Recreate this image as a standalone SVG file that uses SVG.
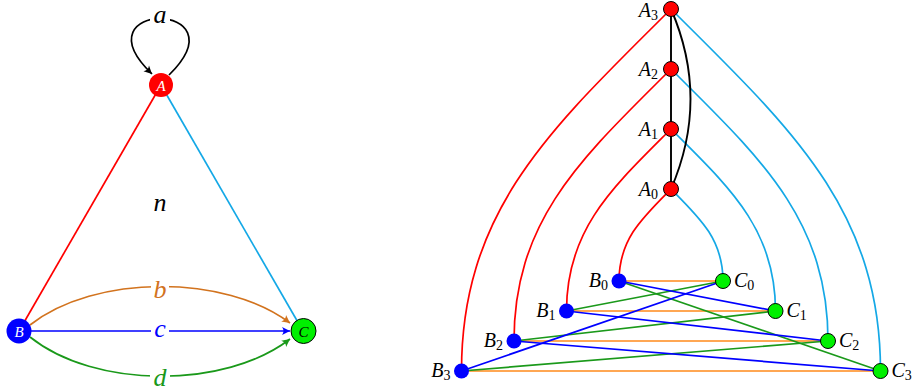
<svg xmlns="http://www.w3.org/2000/svg" width="915" height="392" viewBox="0 0 915 392">
<style>
.m{font-family:"Liberation Serif","DejaVu Serif",serif;font-style:italic}
.big{font-size:26px}
.nl{font-size:15px;text-anchor:middle}
.lab{font-size:20px}
.sub{font-size:14px;font-style:normal}
.e{fill:none;stroke-width:1.7}
.k{fill:none;stroke:#000;stroke-width:1.9}
.red{stroke:#ff0000}
.cy{stroke:#14a8e6}
.or{stroke:#ff8a1a}
.bl{stroke:#0000ff}
.gr{stroke:#1a991a}
.ob{stroke:#d2731e}
.bg{fill:#fff}
</style>
<defs>
<marker id="ak" viewBox="-9 -5 10 10" refX="0" refY="0" markerWidth="10" markerHeight="10" markerUnits="userSpaceOnUse" orient="auto"><path d="M0,0 L-8,-4 Q-5,0 -8,4 Z" fill="#000"/></marker>
<marker id="ao" viewBox="-9 -5 10 10" refX="0" refY="0" markerWidth="10" markerHeight="10" markerUnits="userSpaceOnUse" orient="auto"><path d="M0,0 L-8,-4 Q-5,0 -8,4 Z" fill="#d2731e"/></marker>
<marker id="ab" viewBox="-9 -5 10 10" refX="0" refY="0" markerWidth="10" markerHeight="10" markerUnits="userSpaceOnUse" orient="auto"><path d="M0,0 L-8,-4 Q-5,0 -8,4 Z" fill="#0000ff"/></marker>
<marker id="ag" viewBox="-9 -5 10 10" refX="0" refY="0" markerWidth="10" markerHeight="10" markerUnits="userSpaceOnUse" orient="auto"><path d="M0,0 L-8,-4 Q-5,0 -8,4 Z" fill="#1a991a"/></marker>
</defs>

<g id="left-connectors">
<line class="e red" x1="161" y1="85" x2="19" y2="331"/>
<line class="e cy" x1="161" y1="85" x2="303" y2="331"/>
<path class="e" stroke="#000" d="M169,75 C245,0 75,0 152,74" marker-end="url(#ak)"/>
<path class="e ob" d="M30,325 C95,274 225,274 290,323" marker-end="url(#ao)"/>
<line class="e bl" x1="31" y1="331" x2="290" y2="331" marker-end="url(#ab)"/>
<path class="e gr" d="M30,337 C95,389 225,389 290,339" marker-end="url(#ag)"/>
<rect class="bg" x="150" y="6" width="20" height="20"/>
<text class="m big" x="160" y="23" text-anchor="middle">a</text>
<rect class="bg" x="151" y="279" width="18" height="21"/>
<text class="m big" x="160" y="298" text-anchor="middle" fill="#d2731e">b</text>
<rect class="bg" x="151" y="322" width="18" height="18"/>
<text class="m big" x="160" y="337" text-anchor="middle" fill="#0000ff">c</text>
<rect class="bg" x="150" y="366" width="20" height="22"/>
<text class="m big" x="160" y="386" text-anchor="middle" fill="#1a991a">d</text>
<text class="m big" x="160" y="211" text-anchor="middle">n</text>
</g>

<g id="nodeA"><circle cx="161" cy="85" r="12" fill="#ff0000"/><text class="m nl" x="161" y="90.5" fill="#fff">A</text></g>
<g id="nodeB"><circle cx="19" cy="331" r="12.5" fill="#0000ff"/><text class="m nl" x="19" y="336.5" fill="#fff">B</text></g>
<g id="nodeC"><circle cx="303.5" cy="331" r="12.5" fill="#00f000" stroke="#000" stroke-width="1"/><text class="m nl" x="303.5" y="336.5" fill="#000">C</text></g>

<g id="right-connectors">
<path class="e red" d="M671,189 C641.7,218.3 619,239.6 619,281"/>
<path class="e red" d="M671,129 C612.9,187.1 566.5,228.8 566.5,311"/>
<path class="e red" d="M671,69 C584,156 514,218 514,341"/>
<path class="e red" d="M671,9 C555.2,124.8 461.5,207.2 461.5,371"/>
<path class="e cy" d="M671,189 C700.3,218.3 723,239.6 723,281"/>
<path class="e cy" d="M671,129 C729.1,187.1 775.5,228.8 775.5,311"/>
<path class="e cy" d="M671,69 C758,156 828,218 828,341"/>
<path class="e cy" d="M671,9 C786.8,124.8 880.5,207.2 880.5,371"/>
<line class="k" x1="671" y1="9" x2="671" y2="189"/>
<path class="k" d="M671,9 C697,69 697,129 671,189"/>
<line class="e or" x1="619" y1="281" x2="723" y2="281"/>
<line class="e or" x1="566.5" y1="311" x2="775.5" y2="311"/>
<line class="e or" x1="514" y1="341" x2="828" y2="341"/>
<line class="e or" x1="461.5" y1="371" x2="880.5" y2="371"/>
<line class="e gr" x1="619" y1="281" x2="880.5" y2="371"/>
<line class="e gr" x1="566.5" y1="311" x2="723" y2="281"/>
<line class="e gr" x1="514" y1="341" x2="775.5" y2="311"/>
<line class="e gr" x1="461.5" y1="371" x2="828" y2="341"/>
<line class="e bl" x1="619" y1="281" x2="775.5" y2="311"/>
<line class="e bl" x1="566.5" y1="311" x2="828" y2="341"/>
<line class="e bl" x1="514" y1="341" x2="880.5" y2="371"/>
<line class="e bl" x1="461.5" y1="371" x2="723" y2="281"/>
</g>

<g id="A0"><circle cx="671" cy="189" r="7.5" fill="#ff0000" stroke="#000" stroke-width="1"/><text class="m lab" x="658" y="196" text-anchor="end">A<tspan class="sub" dy="3">0</tspan></text></g>
<g id="A1"><circle cx="671" cy="129" r="7.5" fill="#ff0000" stroke="#000" stroke-width="1"/><text class="m lab" x="658" y="136" text-anchor="end">A<tspan class="sub" dy="3">1</tspan></text></g>
<g id="A2"><circle cx="671" cy="69" r="7.5" fill="#ff0000" stroke="#000" stroke-width="1"/><text class="m lab" x="658" y="76" text-anchor="end">A<tspan class="sub" dy="3">2</tspan></text></g>
<g id="A3"><circle cx="671" cy="9" r="7.5" fill="#ff0000" stroke="#000" stroke-width="1"/><text class="m lab" x="658" y="17" text-anchor="end">A<tspan class="sub" dy="3">3</tspan></text></g>

<g id="B0"><circle cx="619" cy="281" r="7.5" fill="#0000ff"/><text class="m lab" x="608" y="287" text-anchor="end">B<tspan class="sub" dy="3">0</tspan></text></g>
<g id="B1"><circle cx="566.5" cy="311" r="7.5" fill="#0000ff"/><text class="m lab" x="555.5" y="317" text-anchor="end">B<tspan class="sub" dy="3">1</tspan></text></g>
<g id="B2"><circle cx="514" cy="341" r="7.5" fill="#0000ff"/><text class="m lab" x="503" y="347" text-anchor="end">B<tspan class="sub" dy="3">2</tspan></text></g>
<g id="B3"><circle cx="461.5" cy="371" r="7.5" fill="#0000ff"/><text class="m lab" x="450.5" y="377" text-anchor="end">B<tspan class="sub" dy="3">3</tspan></text></g>

<g id="C0"><circle cx="723" cy="281" r="7.5" fill="#00f000" stroke="#000" stroke-width="1"/><text class="m lab" x="734" y="287">C<tspan class="sub" dy="3">0</tspan></text></g>
<g id="C1"><circle cx="775.5" cy="311" r="7.5" fill="#00f000" stroke="#000" stroke-width="1"/><text class="m lab" x="786.5" y="317">C<tspan class="sub" dy="3">1</tspan></text></g>
<g id="C2"><circle cx="828" cy="341" r="7.5" fill="#00f000" stroke="#000" stroke-width="1"/><text class="m lab" x="839" y="347">C<tspan class="sub" dy="3">2</tspan></text></g>
<g id="C3"><circle cx="880.5" cy="371" r="7.5" fill="#00f000" stroke="#000" stroke-width="1"/><text class="m lab" x="891.5" y="377">C<tspan class="sub" dy="3">3</tspan></text></g>
</svg>
